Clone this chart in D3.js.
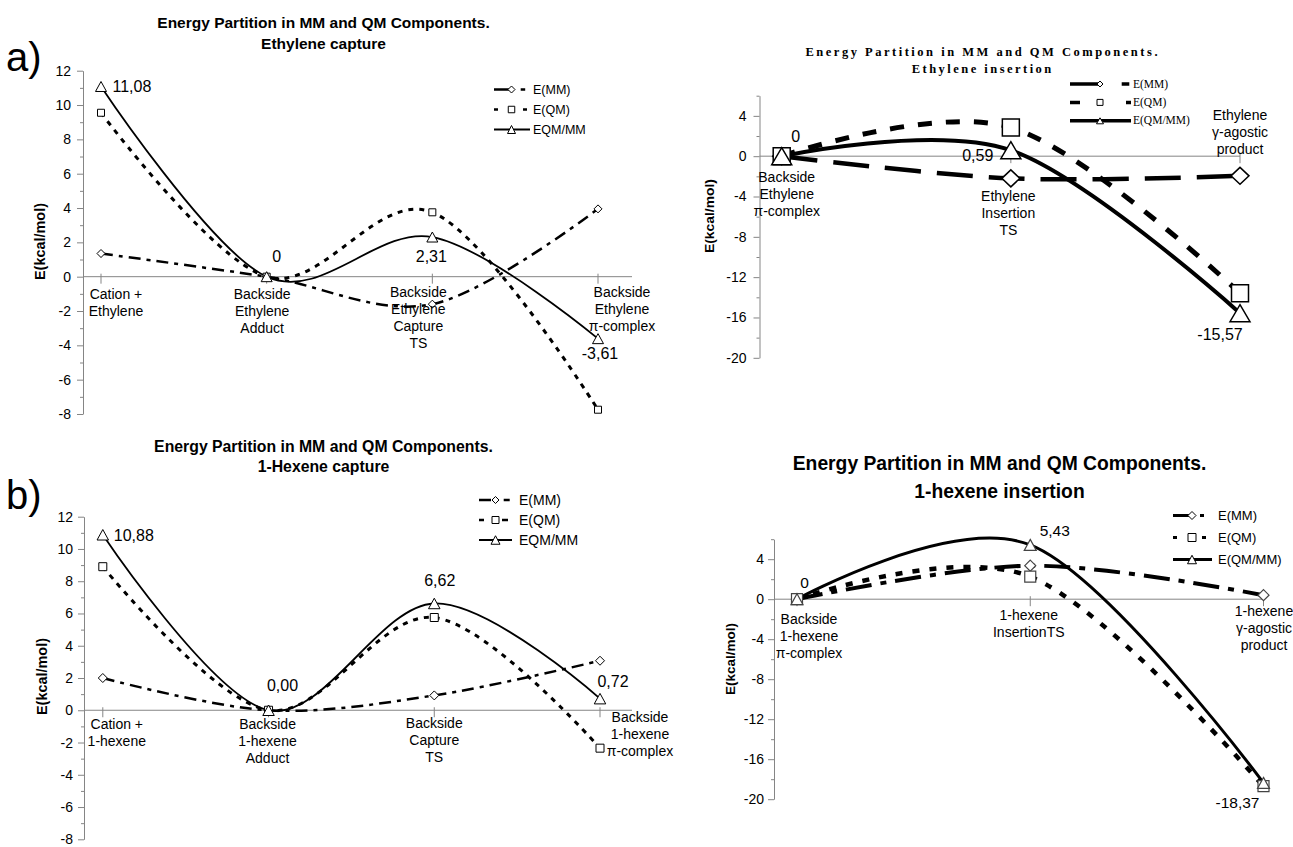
<!DOCTYPE html>
<html>
<head>
<meta charset="utf-8">
<script src="https://cdn.jsdelivr.net/npm/d3@7"></script>
<style>
  body { margin: 0; background: #fff; }
  svg { display: block; }
</style>
</head>
<body>
<svg id="chart" width="1293" height="847"></svg>
<script>
// ---- data ----
const seriesNames = ["E(MM)", "E(QM)", "EQM/MM"];
const seriesNamesIns = ["E(MM)", "E(QM)", "E(QM/MM)"];

const ethCaptureCats = [["Cation +", "Ethylene"], ["Backside", "Ethylene", "Adduct"],
  ["Backside", "Ethylene", "Capture", "TS"], ["Backside", "Ethylene", "\u03c0-complex"]];
const ethCaptureMM = [1.35, 0, -1.6, 3.95];
const ethCaptureQM = [9.55, 0, 3.75, -7.75];
const ethCaptureQMMM = [11.08, 0, 2.31, -3.61];
const ethCaptureLabels = ["11,08", "0", "2,31", "-3,61"];

const hexCaptureCats = [["Cation +", "1-hexene"], ["Backside", "1-hexene", "Adduct"],
  ["Backside", "Capture", "TS"], ["Backside", "1-hexene", "\u03c0-complex"]];
const hexCaptureMM = [2.0, 0, 0.92, 3.07];
const hexCaptureQM = [8.9, 0, 5.75, -2.35];
const hexCaptureQMMM = [10.88, 0, 6.62, 0.72];
const hexCaptureLabels = ["10,88", "0,00", "6,62", "0,72"];

const ethInsertCats = [["Backside", "Ethylene", "\u03c0-complex"], ["Ethylene", "Insertion", "TS"],
  ["Ethylene", "\u03b3-agostic", "product"]];
const ethInsertMM = [0, -2.2, -1.95];
const ethInsertQM = [0, 2.85, -13.6];
const ethInsertQMMM = [0, 0.59, -15.57];
const ethInsertLabels = ["0", "0,59", "-15,57"];

const hexInsertCats = [["Backside", "1-hexene", "\u03c0-complex"], ["1-hexene", "InsertionTS"],
  ["1-hexene", "\u03b3-agostic", "product"]];
const hexInsertMM = [0, 3.35, 0.4];
const hexInsertQM = [0, 2.25, -18.7];
const hexInsertQMMM = [0, 5.43, -18.37];
const hexInsertLabels = ["0", "5,43", "-18,37"];

const captureTicks = d3.range(-8, 13, 2);
const captureMinor = d3.range(-7, 12, 2);
const insertTicks = d3.range(-20, 5, 4);
const insertMinor = d3.range(-18, 7, 4);

// ---- drawing ----
const svg = d3.select("#chart");
const SANS = "'Liberation Sans', Arial, sans-serif";
const SERIF = "'Liberation Serif', 'Times New Roman', serif";
const axisColor = "#858585";

function markerPath(type, w, h) {
  if (type === "diamond") return `M0,${-h / 2}L${w / 2},0L0,${h / 2}L${-w / 2},0Z`;
  if (type === "square") return `M${-w / 2},${-h / 2}h${w}v${h}h${-w}Z`;
  return `M0,${-h / 2}L${w / 2},${h / 2}L${-w / 2},${h / 2}Z`;
}

function drawPanel(p) {
  const g = svg.append("g");
  const x = d3.scalePoint().domain(d3.range(p.cats.length)).range(p.xRange);
  const y = d3.scaleLinear().domain(p.yDomain).range(p.yRange);

  // zero line + category ticks
  g.append("line")
    .attr("x1", p.axisX).attr("x2", p.axisEnd)
    .attr("y1", y(0)).attr("y2", y(0))
    .attr("stroke", axisColor).attr("stroke-width", 1);
  g.selectAll(".ctick").data(p.cats).join("line")
    .attr("x1", (d, i) => x(i)).attr("x2", (d, i) => x(i))
    .attr("y1", y(0) - 3).attr("y2", y(0) + 7)
    .attr("stroke", axisColor);

  // y axis
  const major = g.append("g").attr("transform", `translate(${p.axisX},0)`)
    .call(d3.axisLeft(y).tickValues(p.ticks).tickSize(6).tickSizeOuter(0)
      .tickPadding(p.tickPad).tickFormat(d => String(d)));
  major.attr("font-family", SANS).attr("font-size", p.tickFont);
  major.selectAll("path, line").attr("stroke", axisColor);
  major.selectAll("text").attr("fill", "#000");
  const minor = g.append("g").attr("transform", `translate(${p.axisX},0)`)
    .call(d3.axisLeft(y).tickValues(p.minor).tickSize(3).tickFormat(""));
  minor.select(".domain").remove();
  minor.selectAll("line").attr("stroke", axisColor);

  g.append("text")
    .attr("transform", `translate(${p.yLabel[0]},${p.yLabel[1]}) rotate(-90)`)
    .attr("text-anchor", "middle").attr("dominant-baseline", "central")
    .attr("font-family", SANS).attr("font-weight", "bold")
    .attr("font-size", p.yLabelFont)
    .attr("textLength", p.yLabelLen).attr("lengthAdjust", "spacingAndGlyphs")
    .text("E(kcal/mol)");

  // series lines
  const line = d3.line().x((d, i) => x(i)).y(d => y(d)).curve(d3.curveCardinal.tension(0));
  p.series.forEach((s, k) => {
    const st = p.styles[k];
    g.append("path").attr("d", line(s))
      .attr("fill", "none").attr("stroke", "#000")
      .attr("stroke-width", st.width)
      .attr("stroke-dasharray", st.dash || null);
  });
  // markers
  p.series.forEach((s, k) => {
    const st = p.styles[k];
    g.selectAll(null).data(s).join("path")
      .attr("transform", (d, i) => `translate(${x(i)},${y(d)})`)
      .attr("d", markerPath(st.marker, st.mw, st.mh))
      .attr("fill", "#fff").attr("stroke", p.markerStroke)
      .attr("stroke-width", p.markerWidth);
  });

  // value labels on the QM/MM series
  const tot = p.series[2];
  g.selectAll(null).data(p.labels).join("text")
    .attr("x", (d, i) => x(i) + p.labelOff[i][0])
    .attr("y", (d, i) => y(tot[i]) + p.labelOff[i][1])
    .attr("text-anchor", (d, i) => p.labelOff[i][2] || "middle")
    .attr("font-family", SANS).attr("font-size", p.labelFont)
    .text(d => d);

  // category labels
  p.cats.forEach((lines, i) => {
    const t = g.append("text")
      .attr("text-anchor", "middle").attr("font-family", SANS)
      .attr("font-size", p.catFont);
    lines.forEach((ln, j) => {
      t.append("tspan").attr("x", x(i) + p.catOff[i][0])
        .attr("y", p.catOff[i][1] + j * p.catLH).text(ln);
    });
  });

  // titles
  p.title.forEach((ln, j) => {
    g.append("text").attr("x", p.titleX).attr("y", p.titleY[j])
      .attr("text-anchor", "middle").attr("font-family", p.titleFamily)
      .attr("font-weight", "bold").attr("font-size", p.titleFont)
      .attr("textLength", p.titleLen ? p.titleLen[j] : null)
      .attr("lengthAdjust", "spacing")
      .text(ln);
  });

  // legend
  const L = p.legend;
  p.names.forEach((name, k) => {
    const st = p.styles[k];
    const yy = L.y + k * L.rowH;
    g.append("line").attr("x1", L.x0).attr("x2", L.x1)
      .attr("y1", yy - L.lift).attr("y2", yy - L.lift)
      .attr("stroke", "#000").attr("stroke-width", L.width[k])
      .attr("stroke-dasharray", L.dash[k]);
    g.append("path")
      .attr("transform", `translate(${L.mx},${yy - L.lift})`)
      .attr("d", markerPath(st.marker, L.ms[k][0], L.ms[k][1]))
      .attr("fill", "#fff").attr("stroke", "#000").attr("stroke-width", 1);
    g.append("text").attr("x", L.tx).attr("y", yy)
      .attr("font-family", L.family).attr("font-size", L.font)
      .text(name);
  });
}

// panel letters
svg.append("text").attr("x", 6).attr("y", 71).attr("font-family", SANS)
  .attr("font-size", 40).text("a)");
svg.append("text").attr("x", 6).attr("y", 509).attr("font-family", SANS)
  .attr("font-size", 40).text("b)");

const captureStyles = [
  { width: 2.5, dash: "12,6,4,6", marker: "diamond", mw: 8, mh: 8 },
  { width: 3, dash: "5,6", marker: "square", mw: 7, mh: 7 },
  { width: 1.8, dash: null, marker: "triangle", mw: 11, mh: 10 }
];

drawPanel({
  cats: ethCaptureCats, series: [ethCaptureMM, ethCaptureQM, ethCaptureQMMM],
  labels: ethCaptureLabels, names: seriesNames,
  xRange: [101, 598], yDomain: [-8, 12], yRange: [414, 70.7],
  axisX: 83, axisEnd: 632, ticks: captureTicks, minor: captureMinor,
  tickFont: 14, tickPad: 6,
  yLabel: [40, 241.5], yLabelFont: 14, yLabelLen: 77,
  styles: captureStyles, markerStroke: "#000", markerWidth: 1,
  labelFont: 16,
  labelOff: [[11.5, 6, "start"], [10, -14.5], [-1, 25], [2, 20]],
  catFont: 14, catLH: 17,
  catOff: [[15, 299], [-4.5, 299], [-14, 297], [24, 297]],
  title: ["Energy Partition in MM and QM Components.", "Ethylene capture"],
  titleX: 323.5, titleY: [28.3, 49.3], titleFont: 15.5, titleFamily: SANS,
  legend: { x0: 494, x1: 530, mx: 511.5, tx: 533, y: 94, rowH: 20, lift: 4.5,
    width: [2.5, 2.5, 1.8], dash: ["15,11.7,4.5,40", "4,25,4,40", null],
    ms: [[7, 7], [6.5, 6.5], [8, 8]], font: 12.5, family: SANS }
});

drawPanel({
  cats: hexCaptureCats, series: [hexCaptureMM, hexCaptureQM, hexCaptureQMMM],
  labels: hexCaptureLabels, names: seriesNames,
  xRange: [102.8, 600], yDomain: [-8, 12], yRange: [839.3, 516.7],
  axisX: 84, axisEnd: 632, ticks: captureTicks, minor: captureMinor,
  tickFont: 14, tickPad: 5,
  yLabel: [41.5, 676.5], yLabelFont: 14, yLabelLen: 77,
  styles: [
    { width: 2.5, dash: "12,6,4,6", marker: "diamond", mw: 9, mh: 9 },
    { width: 3, dash: "5,6", marker: "square", mw: 8, mh: 8 },
    { width: 1.8, dash: null, marker: "triangle", mw: 11.5, mh: 10.5 }
  ], markerStroke: "#000", markerWidth: 1,
  labelFont: 16,
  labelOff: [[11, 6.3, "start"], [14, -19], [5.5, -17], [13, -12]],
  catFont: 14, catLH: 17,
  catOff: [[14, 729], [-1, 729], [0, 728], [40, 722]],
  title: ["Energy Partition in MM and QM Components.", "1-Hexene capture"],
  titleX: 323.5, titleY: [452.3, 472.3], titleFont: 15.8, titleFamily: SANS,
  legend: { x0: 479, x1: 512, mx: 495.5, tx: 519, y: 505, rowH: 20, lift: 5,
    width: [2.5, 2.5, 1.8], dash: ["12,12.7,6,40", "5,18,6,40", null],
    ms: [[7, 7], [7, 7], [9, 8.5]], font: 14, family: SANS }
});

drawPanel({
  cats: ethInsertCats, series: [ethInsertMM, ethInsertQM, ethInsertQMMM],
  labels: ethInsertLabels, names: seriesNamesIns,
  xRange: [781.7, 1240], yDomain: [-20, 6], yRange: [357.8, 95.7],
  axisX: 759.5, axisEnd: 1240, ticks: insertTicks, minor: insertMinor,
  tickFont: 14, tickPad: 7,
  yLabel: [709.5, 216], yLabelFont: 12, yLabelLen: 74,
  styles: [
    { width: 4.5, dash: "36,16", marker: "diamond", mw: 18, mh: 17 },
    { width: 5, dash: "14,14", marker: "square", mw: 17, mh: 17 },
    { width: 4, dash: null, marker: "triangle", mw: 20, mh: 17 }
  ], markerStroke: "#000", markerWidth: 1.5,
  labelFont: 16,
  labelOff: [[14, -14], [-17.5, 11, "end"], [-20, 27]],
  catFont: 14, catLH: 17,
  catOff: [[5, 182], [-2.5, 201], [0, 120]],
  title: ["Energy Partition in MM and QM Components.", "Ethylene insertion"],
  titleX: 981.5, titleY: [56, 72.8], titleFont: 12.5, titleFamily: SERIF,
  titleLen: [352, 139.5],
  legend: { x0: 1070, x1: 1131, mx: 1100, tx: 1133, y: 87.5, rowH: 18.4, lift: 3.5,
    width: [3.5, 3.5, 3.5], dash: ["30,21.7,7.6,60", "10,46,5,60", null],
    ms: [[6, 6], [6, 6], [7, 6]], font: 11.5, family: SERIF }
});

drawPanel({
  cats: hexInsertCats, series: [hexInsertMM, hexInsertQM, hexInsertQMMM],
  labels: hexInsertLabels, names: seriesNamesIns,
  xRange: [797, 1263.5], yDomain: [-20, 6], yRange: [799.2, 539.2],
  axisX: 774, axisEnd: 1264, ticks: insertTicks, minor: insertMinor,
  tickFont: 14, tickPad: 4,
  yLabel: [730, 659], yLabelFont: 13.5, yLabelLen: 72,
  styles: [
    { width: 4, dash: "26,9,6,9", marker: "diamond", mw: 11, mh: 11 },
    { width: 4.5, dash: "7,10", marker: "square", mw: 11, mh: 11 },
    { width: 3, dash: null, marker: "triangle", mw: 12, mh: 11 }
  ], markerStroke: "#444", markerWidth: 1.2,
  labelFont: 15.5,
  labelOff: [[7.5, -11], [24.5, -9], [-26, 25]],
  catFont: 14, catLH: 17,
  catOff: [[12, 624], [-1.5, 619.5], [0.5, 616]],
  title: ["Energy Partition in MM and QM Components.", "1-hexene insertion"],
  titleX: 999.5, titleY: [470.3, 498], titleFont: 19.3, titleFamily: SANS,
  legend: { x0: 1173, x1: 1212, mx: 1192, tx: 1218, y: 520, rowH: 22, lift: 4.5,
    width: [3, 3, 3], dash: ["16,11,4,40", "4,25,4,40", null],
    ms: [[8, 8], [8, 8], [9, 8.5]], font: 13, family: SANS }
});
</script>
</body>
</html>
